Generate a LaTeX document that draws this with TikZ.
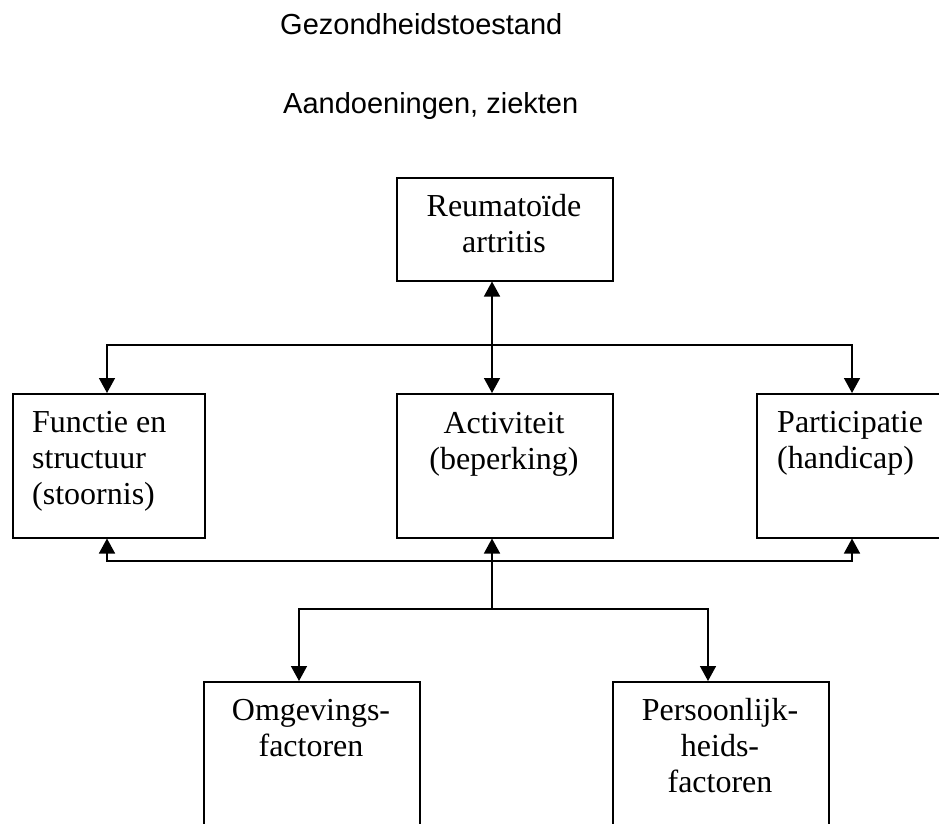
\documentclass[tikz,border=0pt]{standalone}
\usepackage{fontspec}
\setmainfont{Liberation Serif}
\newfontfamily\arialfont{Liberation Sans}
\usetikzlibrary{arrows.meta}
\begin{document}
\begin{tikzpicture}[x=1pt,y=-1pt,
  box/.style={draw, line width=1.5pt, rectangle, inner sep=0pt, anchor=north west},
  lbl/.style={inner sep=0pt, font=\fontsize{32}{36.3}\selectfont},
  ttl/.style={inner sep=0pt, anchor=base west, font=\arialfont\fontsize{29}{34}\selectfont},
  conn/.style={line width=1.5pt, line join=miter},
  tri/.tip={Triangle[width=16pt,length=15pt]}
]
\useasboundingbox (0,0) rectangle (939,823);
\clip (0,0) rectangle (939,823);
\fill[white] (0,0) rectangle (939,823);

% titles
\node[ttl] (t1) at (280,34) {Gezondheidstoestand};
\node[ttl] (t2) at (283,113) {Aandoeningen, ziekten};

% boxes
\node[box, minimum width=216pt, minimum height=103pt] (reu) at (396,177) {};
\node[box, minimum width=192pt, minimum height=144pt] (fun) at (12,393) {};
\node[box, minimum width=216pt, minimum height=144pt] (act) at (396,393) {};
\node[box, minimum width=216pt, minimum height=144pt] (par) at (756,393) {};
\node[box, minimum width=216pt, minimum height=150pt] (omg) at (203,681) {};
\node[box, minimum width=216pt, minimum height=150pt] (per) at (612,681) {};

% labels
\node[lbl, anchor=base] (reut) at (504,216) {\begin{tabular}[t]{@{}c@{}}Reumatoïde\\artritis\end{tabular}};
\node[lbl, anchor=base west] (funt) at (32,432) {\begin{tabular}[t]{@{}l@{}}Functie en\\structuur\\(stoornis)\end{tabular}};
\node[lbl, anchor=base] (actt) at (504,433) {\begin{tabular}[t]{@{}c@{}}Activiteit\\(beperking)\end{tabular}};
\node[lbl, anchor=base west] (part) at (777,432) {\begin{tabular}[t]{@{}l@{}}Participatie\\(handicap)\end{tabular}};
\node[lbl, anchor=base] (omgt) at (311,720) {\begin{tabular}[t]{@{}c@{}}Omgevings-\\factoren\end{tabular}};
\node[lbl, anchor=base] (pert) at (720,720) {\begin{tabular}[t]{@{}c@{}}Persoonlijk-\\heids-\\factoren\end{tabular}};

% junction coordinates
\coordinate (jl) at (107,345);
\coordinate (jr) at (852,345);
\coordinate (jm) at (492,345);
\coordinate (bl) at (107,561);
\coordinate (br) at (852,561);
\coordinate (bm) at (492,609);
\coordinate (ol) at (299,609);
\coordinate (or) at (708,609);

% connectors
\draw[conn, tri-tri] (reu.south -| jm) -- (act.north -| jm);
\draw[conn, tri-tri] (fun.north -| jl) -- (jl) -- (jr) -- (par.north -| jr);
\draw[conn, tri-tri] (fun.south -| bl) -- (bl) -- (br) -- (par.south -| br);
\draw[conn, -tri] (bm) -- (act.south -| bm);
\draw[conn, tri-tri] (omg.north -| ol) -- (ol) -- (or) -- (per.north -| or);
\end{tikzpicture}
\end{document}
